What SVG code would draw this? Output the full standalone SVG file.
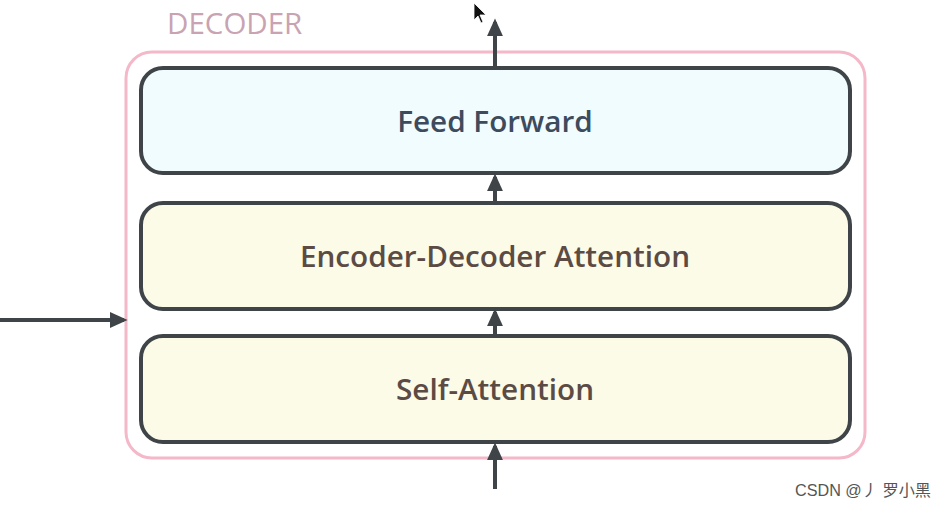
<svg xmlns="http://www.w3.org/2000/svg" width="946" height="508" viewBox="0 0 946 508">
<style>
.box{stroke:#3e4447;stroke-width:4}
.lbl{font-family:"Open Sans","Liberation Sans",sans-serif;font-weight:600;font-size:29.7px;text-anchor:middle}
.conn{stroke:#3e4447;stroke-width:4;fill:none}
</style>
<defs>
<marker id="arr" viewBox="0 0 10 10" refX="8" refY="5" markerWidth="18" markerHeight="18" orient="auto" markerUnits="userSpaceOnUse">
<path d="M0,0.5 L10,5 L0,9.5 Z" fill="#3e4447"/>
</marker>
</defs>
<rect width="946" height="508" fill="#ffffff"/>
<g id="decoder">
<rect x="126" y="52" width="739" height="406" rx="26" fill="none" stroke="#f4b8c9" stroke-width="3"/>
<text x="167" y="34" font-family="'Open Sans','Liberation Sans',sans-serif" font-size="29.5" fill="#c9a3b2">DECODER</text>
</g>
<g id="feed-forward">
<rect class="box" x="141" y="68" width="709" height="105" rx="22" fill="#f0fcfe"/>
<text class="lbl" x="495" y="132" fill="#3d4b5d">Feed Forward</text>
</g>
<g id="enc-dec-attention">
<rect class="box" x="141" y="203" width="709" height="106" rx="22" fill="#fcfbe8"/>
<text class="lbl" x="495" y="267" fill="#5b4b44">Encoder-Decoder Attention</text>
</g>
<g id="self-attention">
<rect class="box" x="141" y="336" width="709" height="106" rx="22" fill="#fcfbe8"/>
<text class="lbl" x="495" y="400" fill="#5b4b44">Self-Attention</text>
</g>
<g id="connectors">
<line class="conn" x1="495" y1="66" x2="495" y2="22" marker-end="url(#arr)"/>
<line class="conn" x1="495" y1="201" x2="495" y2="177" marker-end="url(#arr)"/>
<line class="conn" x1="495" y1="334" x2="495" y2="312" marker-end="url(#arr)"/>
<line class="conn" x1="495" y1="489" x2="495" y2="446" marker-end="url(#arr)"/>
<line class="conn" x1="0" y1="320" x2="124" y2="320" marker-end="url(#arr)"/>
</g>
<g id="cursor">
<path d="M474,3 L474,20 L478,16 L481,23 L483,22 L480,15 L486,15 Z" fill="#111" stroke="#fff" stroke-width="0.8"/>
</g>
<text x="795" y="496" font-family="'Liberation Sans','Noto Sans CJK SC',sans-serif" font-size="16.2" fill="#555">CSDN @丿 罗小黑</text>
</svg>
